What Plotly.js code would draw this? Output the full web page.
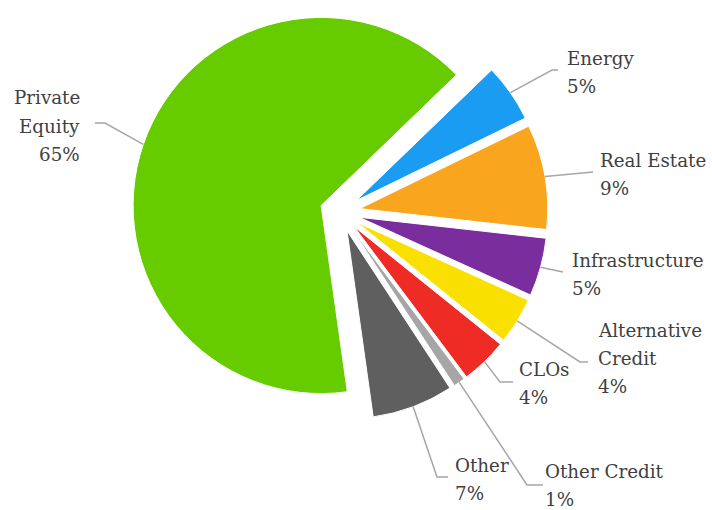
<!DOCTYPE html>
<html>
<head>
<meta charset="utf-8">
<script src="https://cdn.plot.ly/plotly-3.0.1.min.js"></script>
<style>html,body{margin:0;padding:0;background:#fff;}</style>
</head>
<body>
<div id="chart" style="width:712px;height:510px;"></div>
<script>
// ---- data ----
const labels = ['Energy', 'Real Estate', 'Infrastructure', 'Alternative Credit', 'CLOs', 'Other Credit', 'Other', 'Private Equity'];
const displayNames = ['Energy', 'Real Estate', 'Infrastructure', 'Alternative<br>Credit', 'CLOs', 'Other Credit', 'Other', 'Private<br>Equity'];
const values = [5, 9, 5, 4, 4, 1, 7, 65];

// ---- styles / layout config ----
const colors = ['#1A9CF2', '#F9A61E', '#7A2E9E', '#FAE000', '#EE2B25', '#A6A6A6', '#5F5F5F', '#66CC00'];
const FONT = {family: 'DejaVu Serif', size: 18.3, color: '#404040'};
const LINE_H = 28;
const W = 712, H = 510;
const CX = 340, CY = 212, HALF = 208, PULL = 0.106, ROT = 46;
// label placement in px: [x, centerY, anchor, elbowX, elbowY, endX, endY]
const labelPos = [
  [566, 72, 'left', 552, 70, 558, 70],
  [599, 174, 'left', 593, 172, 593, 172],
  [571, 274, 'left', 563, 272, 563, 272],
  [597, 358, 'left', 580, 362, 588, 362],
  [518, 383, 'left', 500, 382, 513, 382],
  [544, 485, 'left', 527, 485, 543, 485],
  [454, 479, 'left', 437, 477, 448, 477],
  [81, 126, 'right', 105, 123, 95, 123]
];

const px = x => x / W;
const py = y => 1 - y / H;

const R = HALF / (1 + PULL);
const total = values.reduce((a, b) => a + b, 0);

const annotations = [];
const shapes = [];
let acc = 0;
values.forEach((v, i) => {
  const mid = (ROT + (acc + v / 2) / total * 360) * Math.PI / 180;
  acc += v;
  const sx = Math.sin(mid), sy = -Math.cos(mid);
  const ox = CX + PULL * R * sx, oy = CY + PULL * R * sy;
  const ax = ox + R * sx, ay = oy + R * sy;
  const p = labelPos[i];
  shapes.push({
    type: 'path', xref: 'paper', yref: 'paper',
    path: `M ${px(ax)} ${py(ay)} L ${px(p[3])} ${py(p[4])} L ${px(p[5])} ${py(p[6])}`,
    line: {color: '#A6A6A6', width: 1.5}
  });
  const lines = (displayNames[i] + '<br>' + v + '%').split('<br>');
  lines.forEach((ln, k) => {
    const yc = p[1] + (k - (lines.length - 1) / 2) * LINE_H;
    annotations.push({
      xref: 'paper', yref: 'paper', x: px(p[0]), y: py(yc),
      xanchor: p[2], yanchor: 'middle', align: p[2],
      showarrow: false, borderpad: 0,
      text: ln,
      font: FONT
    });
  });
});

const trace = {
  type: 'pie',
  labels: labels,
  values: values,
  sort: false,
  direction: 'clockwise',
  rotation: ROT,
  pull: values.map(() => PULL),
  textinfo: 'none',
  hoverinfo: 'label+percent',
  marker: {colors: colors, line: {color: '#ffffff', width: 1}},
  domain: {x: [px(CX - HALF), px(CX + HALF)], y: [py(CY + HALF), py(CY - HALF)]},
  automargin: false
};

const layout = {
  width: W, height: H,
  margin: {l: 0, r: 0, t: 0, b: 0},
  showlegend: false,
  paper_bgcolor: '#ffffff',
  annotations: annotations,
  shapes: shapes
};

Plotly.newPlot('chart', [trace], layout, {displayModeBar: false, staticPlot: true});
</script>
</body>
</html>
